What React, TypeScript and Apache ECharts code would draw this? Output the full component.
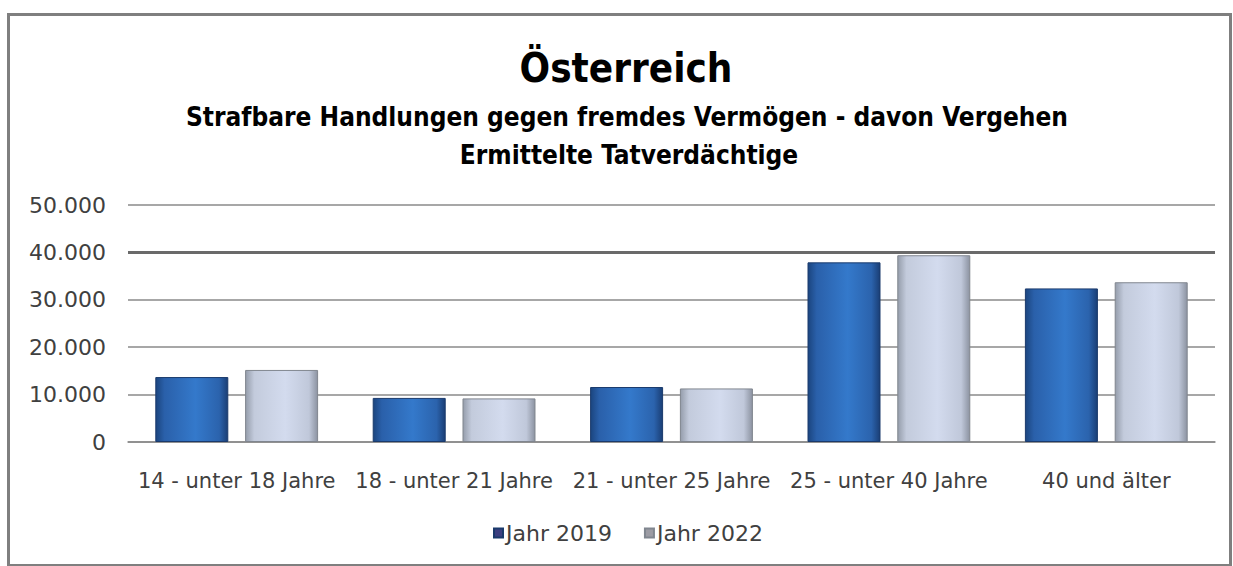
import React, { useEffect, useRef } from "react";
import * as echarts from "echarts";

const categories = [
  "14 - unter 18 Jahre",
  "18 - unter 21 Jahre",
  "21 - unter 25 Jahre",
  "25 - unter 40 Jahre",
  "40 und älter",
];
const jahr2019 = [13700, 9300, 11600, 37900, 32400];
const jahr2022 = [15200, 9200, 11300, 39400, 33700];
const seriesNames = ["Jahr 2019", "Jahr 2022"];
const titleText = "Österreich";
const subtitleLines = [
  "Strafbare Handlungen gegen fremdes Vermögen - davon Vergehen",
  "Ermittelte Tatverdächtige",
];

const FONT_C = "'DejaVu Sans Condensed', 'Open Sans', sans-serif";
const FONT = "'DejaVu Sans', 'Open Sans', sans-serif";

const fmt = (v: number) => (v === 0 ? "0" : v.toLocaleString("de-DE"));

export default function App() {
  const ref = useRef<HTMLDivElement>(null);
  useEffect(() => {
    if (!ref.current) return;
    const chart = echarts.init(ref.current, undefined, { renderer: "svg" });
    const blue = new echarts.graphic.LinearGradient(0, 0, 1, 0, [
      { offset: 0, color: "#1b457f" },
      { offset: 0.12, color: "#2a60aa" },
      { offset: 0.55, color: "#3479cb" },
      { offset: 0.88, color: "#2b63ad" },
      { offset: 1, color: "#1a3e75" },
    ]);
    const grey = new echarts.graphic.LinearGradient(0, 0, 1, 0, [
      { offset: 0, color: "#959dab" },
      { offset: 0.12, color: "#c3cbdc" },
      { offset: 0.55, color: "#d3dbee" },
      { offset: 0.88, color: "#c0c8da" },
      { offset: 1, color: "#8c93a1" },
    ]);
    chart.setOption({
      animation: false,
      backgroundColor: "#ffffff",
      textStyle: { fontFamily: FONT },
      graphic: [
        {
          type: "rect",
          shape: { x: 8.5, y: 14.5, width: 1222, height: 551 },
          style: { fill: "none", stroke: "#7f7f7f", lineWidth: 3 },
          silent: true,
        },
        {
          type: "text",
          x: 626,
          y: 68,
          style: {
            text: titleText,
            fontSize: 40,
            fontWeight: "bold",
            fontFamily: FONT_C,
            fill: "#000000",
            textAlign: "center",
            textVerticalAlign: "middle",
          },
        },
        {
          type: "text",
          x: 627,
          y: 117,
          style: {
            text: subtitleLines[0],
            fontSize: 26,
            fontWeight: "bold",
            fontFamily: FONT_C,
            fill: "#000000",
            textAlign: "center",
            textVerticalAlign: "middle",
          },
        },
        {
          type: "text",
          x: 629,
          y: 155,
          style: {
            text: subtitleLines[1],
            fontSize: 26,
            fontWeight: "bold",
            fontFamily: FONT_C,
            fill: "#000000",
            textAlign: "center",
            textVerticalAlign: "middle",
          },
        },
      ],
      legend: {
        bottom: 17,
        left: 488,
        itemWidth: 9,
        itemHeight: 9,
        itemGap: 32,
        icon: "rect",
        textStyle: { fontSize: 22, color: "#404040", fontFamily: FONT, padding: [0, 0, 0, -2] },
        data: [
          { name: seriesNames[0], itemStyle: { color: "#3c3f80" } },
          { name: seriesNames[1], itemStyle: { color: "#9c9ca4" } },
        ],
      },
      grid: { left: 128, right: 18, top: 205, bottom: 124 },
      xAxis: {
        type: "category",
        data: categories,
        axisLine: { lineStyle: { color: "#8a8a8a", width: 1.5 } },
        axisTick: { show: false },
        axisLabel: { fontSize: 21, color: "#404040", margin: 28, interval: 0, fontFamily: FONT },
      },
      yAxis: {
        type: "value",
        min: 0,
        max: 50000,
        interval: 10000,
        axisLine: { show: false },
        axisTick: { show: false },
        axisLabel: { fontSize: 22, color: "#404040", margin: 22, formatter: fmt, fontFamily: FONT },
        splitLine: { lineStyle: { color: "#8a8a8a", width: 1.5 } },
      },
      series: [
        {
          name: seriesNames[0],
          type: "bar",
          data: jahr2019,
          barWidth: 73,
          barGap: "23%",
          itemStyle: { color: blue, borderColor: "#1a3a6c", borderWidth: 1 },
          markLine: {
            silent: true,
            symbol: "none",
            label: { show: false },
            lineStyle: { color: "#6a6a6a", width: 3, type: "solid" },
            data: [{ yAxis: 40000 }],
            z: 1,
          },
        },
        {
          name: seriesNames[1],
          type: "bar",
          data: jahr2022,
          barWidth: 73,
          barGap: "23%",
          itemStyle: { color: grey, borderColor: "#80868f", borderWidth: 1 },
        },
      ],
    });
    return () => chart.dispose();
  }, []);
  return (
    <div
      ref={ref}
      style={{ position: "fixed", left: 0, top: 0, width: 1233, height: 566 }}
    />
  );
}
